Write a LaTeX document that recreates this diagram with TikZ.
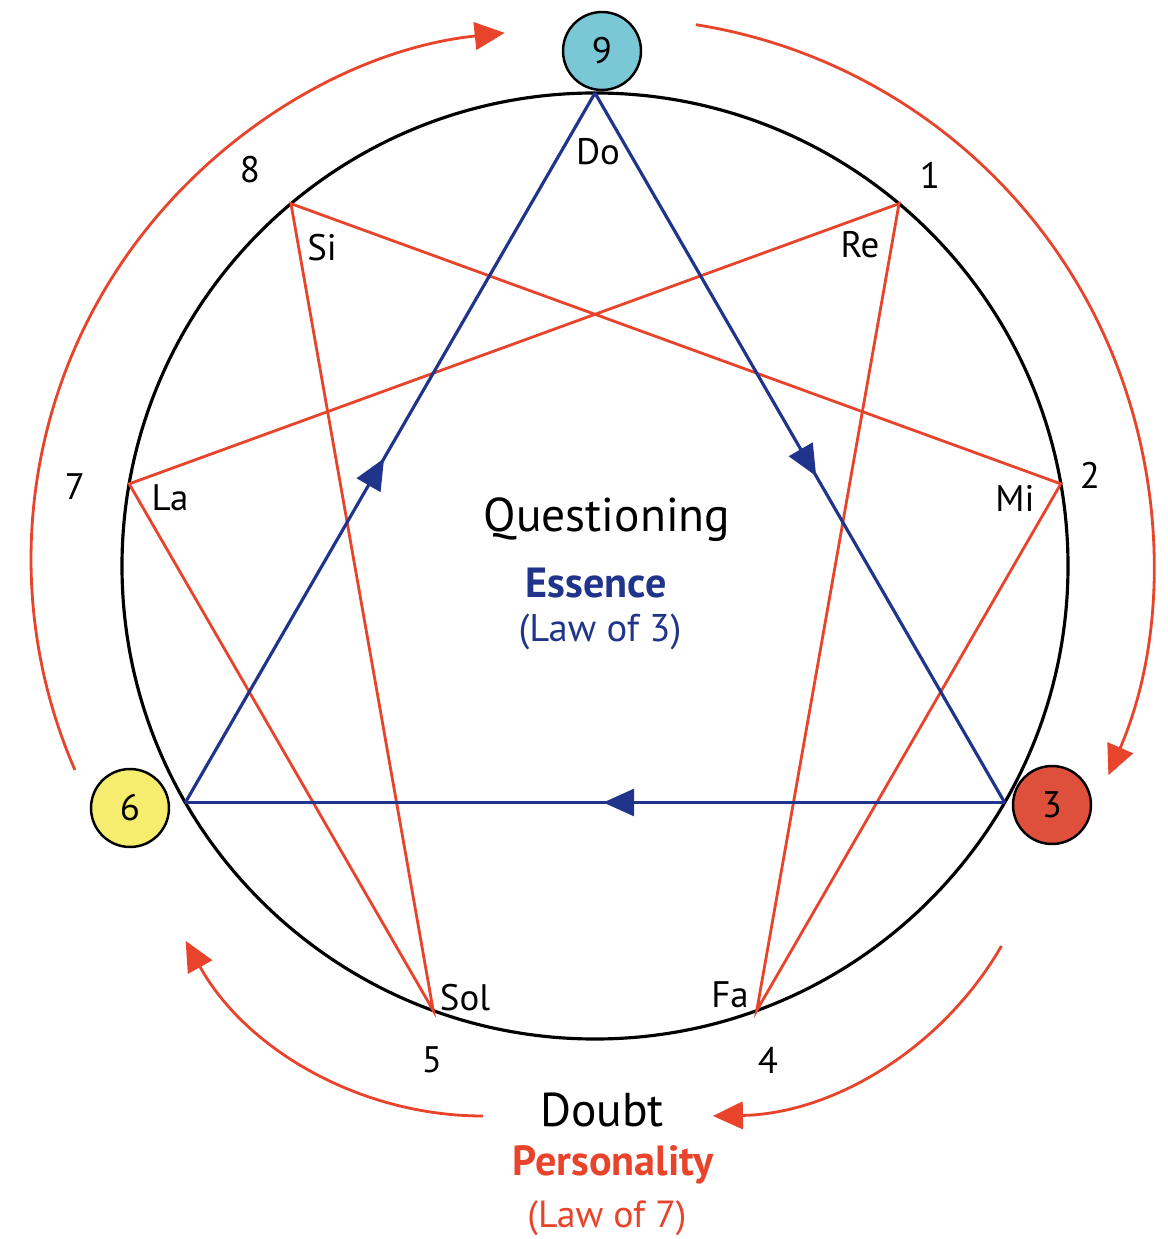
\documentclass[tikz,border=0pt]{standalone}
\usepackage{fontspec}
\setmainfont{PT Sans}
\usetikzlibrary{arrows.meta,decorations.markings}
\definecolor{sevenred}{RGB}{232,68,44}
\definecolor{threeblue}{RGB}{33,52,140}
\definecolor{nineteal}{RGB}{122,200,214}
\definecolor{sixyellow}{RGB}{246,236,110}
\definecolor{threered}{RGB}{222,80,60}
\begin{document}
\begin{tikzpicture}[x=0.02cm,y=0.02cm,
  law3/.style={threeblue,line width=1.8pt,postaction={decorate},
    decoration={markings,mark=at position #1 with {\arrow{Triangle[length=0.62cm,width=0.54cm]}}}},
  law7/.style={sevenred,line width=1.6pt},
  flow/.style={sevenred,line width=1.6pt,-{Triangle[length=0.6cm,width=0.55cm]}},
  point/.style={circle,draw,line width=1.4pt,minimum size=1.56cm,inner sep=0pt,font=\fontsize{21}{21}\selectfont},
  num/.style={font=\fontsize{21}{21}\selectfont},
  note/.style={font=\fontsize{21}{21}\selectfont}]
\useasboundingbox (-595,-673) rectangle (573,566);
\draw[line width=1.8pt] (0,0) circle (473);
\foreach \k in {0,...,8}
  \coordinate (p\k) at ({90-40*\k}:473);
% law of seven
\draw[law7] (p1) -- (p4) -- (p2) -- (p8) -- (p5) -- (p7) -- cycle;
% law of three
\draw[law3=0.485] (p6) -- (p0);
\draw[law3=0.54] (p0) -- (p3);
\draw[law3=0.49] (p3) -- (p6);
% outer flow
\draw[flow,shift={(16,6)}] (81:542) arc (81:-23.4:542);
\draw[flow,shift={(-35,7)}] (203.5:529) arc (203.5:96:529);
\draw[flow,shift={(112,-210)}] (-30:340) arc (-30:-89:340);
\draw[flow,shift={(-112,-210)}] (-90:340) arc (-90:-151:340);
% points of the triangle
\node[point,fill=nineteal] (n9) at (7,515) {9};
\node[point,fill=threered] (n3) at (457,-239) {3};
\node[point,fill=sixyellow] (n6) at (-465,-242) {6};
% numbers
\foreach \x/\y/\t in {335/391/1,495/91/2,173/-494/4,-163/-494/5,-520/79/7,-345/396/8}
  \node[num] (m\t) at (\x,\y) {\t};
% notes
\foreach \x/\y/\t in {3/414/Do,265/321/Re,420/68/Mi,135/-429/Fa,-130/-432/Sol,-425/68/La,-273/318/Si}
  \node[note] (s\t) at (\x,\y) {\t};
% centre
\node[font=\fontsize{27}{27}\selectfont] (quest) at (12,46) {Questioning};
\node[threeblue,font=\fontsize{24}{24}\selectfont\bfseries] (ess) at (1,-17) {Essence};
\node[threeblue,font=\fontsize{22}{22}\selectfont] (lawthree) at (5,-66) {(Law of 3)};
% bottom
\node[font=\fontsize{27}{27}\selectfont] (doubt) at (7,-544) {Doubt};
\node[sevenred,font=\fontsize{24}{24}\selectfont\bfseries] (pers) at (18,-599) {Personality};
\node[sevenred,font=\fontsize{21.5}{21.5}\selectfont] (lawseven) at (12,-652) {(Law of 7)};
\end{tikzpicture}
\end{document}
